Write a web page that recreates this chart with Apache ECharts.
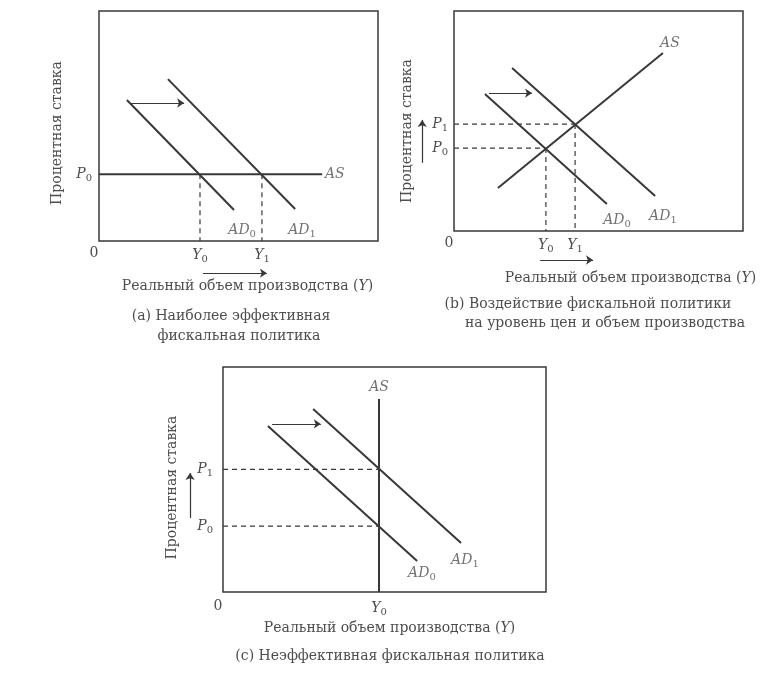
<!DOCTYPE html>
<html lang="ru">
<head>
<meta charset="UTF-8">
<script src="https://cdn.jsdelivr.net/npm/echarts@6/dist/echarts.min.js"></script>
<title>Фискальная политика: AD / AS</title>
</head>
<body style="margin:0; background:#fff">
<div id="main" style="width:784px;height:690px"></div>
<script>
// все координаты в условных единицах осей 0..100

// (a) горизонтальная AS
var aAS = [[0, 29], [80, 29]];
var aAD0 = [[10, 61.3], [48.4, 13.5]];
var aAD1 = [[24.7, 70.4], [70.3, 13.9]];
var aShift = [[11, 60], [30.5, 60]];
var aP = [29];            // P0
var aY = [36.2, 58.4];    // Y0, Y1
var aYArrow = [[37.3, -14], [60.2, -14]];
var aLabelText = ['AS', 'AD0', 'AD1'];
var aLabelAt = [[84.5, 29], [51.3, 4.8], [72.8, 4.8]];

// (b) восходящая AS
var bAS = [[15.2, 19.5], [72.3, 80.9]];
var bAD0 = [[10.7, 62.3], [52.9, 12.3]];
var bAD1 = [[20.1, 74.1], [69.6, 15.9]];
var bShift = [[12.1, 62.7], [27, 62.7]];
var bP = [37.7, 48.6];    // P0, P1
var bY = [31.8, 41.9];    // Y0, Y1
var bYArrow = [[29.8, -13.2], [48.1, -13.2]];
var bPArrow = [[-11, 31], [-11, 50.5]];
var bLabelText = ['AS', 'AD0', 'AD1'];
var bLabelAt = [[74.7, 85.5], [56.4, 5], [72.3, 6.8]];

// (c) вертикальная AS
var cAS = [[48.3, 0], [48.3, 85.8]];
var cAD0 = [[13.9, 73.8], [60.1, 13.8]];
var cAD1 = [[27.9, 81.3], [73.7, 21.8]];
var cShift = [[15.2, 74.7], [30.3, 74.7]];
var cP = [29.3, 54.5];    // P0, P1
var cY = [48.3];          // Y0
var cPArrow = [[-10.2, 32.9], [-10.2, 52.9]];
var cLabelText = ['AS', 'AD0', 'AD1'];
var cLabelAt = [[48.3, 91.1], [61.6, 8.4], [74.9, 14.2]];

var ink = '#383838', txt = '#4d4d4d';
var serif = 'DejaVu Serif';

var rich = {
    i: {fontFamily: serif, fontStyle: 'italic', fontSize: 14, color: txt, lineHeight: 18},
    s: {fontFamily: serif, fontSize: 10, color: txt, verticalAlign: 'bottom'},
    z: {fontFamily: serif, fontSize: 14, color: txt, padding: [0, 10, 0, 0]}
};

function sym(t) {
    var m = t.match(/^([A-Za-z]+)(\d?)$/);
    return '{i|' + m[1] + '}' + (m[2] ? '{s|' + m[2] + '}' : '');
}

var thick = {color: ink, width: 2};
var dash = {color: ink, width: 1.2, type: [5, 4]};

function seg(gi, pts, style) {
    return {
        type: 'line', xAxisIndex: gi, yAxisIndex: gi, data: pts,
        symbol: 'none', clip: false, silent: true, lineStyle: style, z: 3
    };
}

// стрелки (сдвиг кривой, направления вдоль осей)
function arrow(gi, pts) {
    return {
        type: 'lines', coordinateSystem: 'cartesian2d', xAxisIndex: gi, yAxisIndex: gi,
        clip: false, silent: true, symbol: ['none', 'arrow'], symbolSize: 7,
        lineStyle: {color: ink, width: 1.2, opacity: 1},
        data: [{coords: pts}], z: 3
    };
}

function labels(gi, text, at) {
    return {
        type: 'scatter', xAxisIndex: gi, yAxisIndex: gi, silent: true,
        symbolSize: 1, itemStyle: {color: 'rgba(0,0,0,0)'},
        data: at.map(function (p, k) { return {value: p, name: text[k]}; }),
        label: {
            show: true, position: 'inside',
            formatter: function (p) { return sym(p.name); },
            rich: rich
        }
    };
}

var nameStyle = {fontFamily: serif, fontSize: 14, color: txt,
    rich: {iy: {fontFamily: serif, fontStyle: 'italic', fontSize: 14, color: txt}}};

function xAxisOf(gi, ys, gap, shift, margin) {
    return {
        gridIndex: gi, type: 'value', min: 0, max: 100,
        axisLine: {show: false}, axisTick: {show: false}, splitLine: {show: false},
        axisLabel: {
            customValues: [0].concat(ys), margin: margin, rich: rich,
            formatter: function (v) {
                if (v === 0) return '{z|0}';
                return sym('Y' + ys.indexOf(v));
            }
        },
        name: 'Реальный объем производства ({iy|Y})',
        nameLocation: 'middle', nameGap: gap,
        nameTextStyle: Object.assign({padding: [0, 0, 0, shift]}, nameStyle)
    };
}

function yAxisOf(gi, ps, gap, shift, margin) {
    return {
        gridIndex: gi, type: 'value', min: 0, max: 100,
        axisLine: {show: false}, axisTick: {show: false}, splitLine: {show: false},
        axisLabel: {
            customValues: ps, margin: margin, rich: rich,
            formatter: function (v) { return sym('P' + ps.indexOf(v)); }
        },
        name: 'Процентная ставка',
        nameLocation: 'middle', nameGap: gap, nameRotate: 90,
        nameTextStyle: Object.assign({padding: [0, shift, 0, 0]}, nameStyle)
    };
}

function box(left, top, width, height) {
    return {left: left, top: top, width: width, height: height, show: true,
        borderColor: ink, borderWidth: 1.5, backgroundColor: 'transparent'};
}

function caption(text, x, y) {
    return {text: text, left: x, top: y, textAlign: 'center',
        textStyle: {fontFamily: serif, fontSize: 14, fontWeight: 'normal', color: txt}};
}

var series = [
    seg(0, aAS, thick), seg(0, aAD0, thick), seg(0, aAD1, thick),
    arrow(0, aShift), arrow(0, aYArrow),
    labels(0, aLabelText, aLabelAt),

    seg(1, bAS, thick), seg(1, bAD0, thick), seg(1, bAD1, thick),
    arrow(1, bShift), arrow(1, bYArrow), arrow(1, bPArrow),
    labels(1, bLabelText, bLabelAt),

    seg(2, cAS, thick), seg(2, cAD0, thick), seg(2, cAD1, thick),
    arrow(2, cShift), arrow(2, cPArrow),
    labels(2, cLabelText, cLabelAt)
];

// пунктир к точкам равновесия
aY.forEach(function (y) { series.push(seg(0, [[y, aP[0]], [y, 0]], dash)); });
bP.forEach(function (p, k) {
    series.push(seg(1, [[0, p], [bY[k], p]], dash));
    series.push(seg(1, [[bY[k], p], [bY[k], 0]], dash));
});
cP.forEach(function (p) { series.push(seg(2, [[0, p], [cY[0], p]], dash)); });

var myChart = echarts.init(document.getElementById('main'));
myChart.setOption({
    animation: false,
    backgroundColor: '#fff',
    title: [
        caption('(a) Наиболее эффективная', 226, 304),
        caption('фискальная политика', 234, 324),
        caption('(b) Воздействие фискальной политики', 583, 292),
        caption('на уровень цен и объем производства', 600, 311),
        caption('(c) Неэффективная фискальная политика', 385, 644)
    ],
    grid: [box(99, 11, 279, 230), box(454, 11, 289, 220), box(223, 367, 323, 225)],
    xAxis: [
        xAxisOf(0, aY, 38, 18, 5),
        xAxisOf(1, bY, 40, 64, 5),
        xAxisOf(2, cY, 29, 10, 7)
    ],
    yAxis: [
        yAxisOf(0, aP, 35, 14, 7),
        yAxisOf(1, bP, 40, 20, 6),
        yAxisOf(2, cP, 44, 16, 10)
    ],
    series: series
});
</script>
</body>
</html>
